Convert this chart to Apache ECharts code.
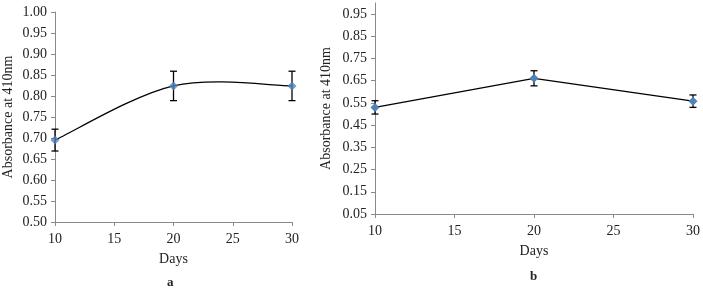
<!DOCTYPE html>
<html><head><meta charset="utf-8">
<script src="https://cdn.jsdelivr.net/npm/echarts@6/dist/echarts.min.js"></script>
<style>html,body{margin:0;padding:0;background:#fff}#c{width:703px;height:289px}</style>
</head><body><div id="c"></div>
<script>
const days = [10, 20, 30];
const xTicks = [10, 15, 20, 25, 30];
// Panel a
const meanA = [0.695, 0.824, 0.824];
const errA = [0.026, 0.035, 0.035];
const yTicksA = [0.50, 0.55, 0.60, 0.65, 0.70, 0.75, 0.80, 0.85, 0.90, 0.95, 1.00];
// Panel b
const meanB = [0.530, 0.661, 0.558];
const errB = [0.030, 0.034, 0.028];
const yTicksB = [0.05, 0.15, 0.25, 0.35, 0.45, 0.55, 0.65, 0.75, 0.85, 0.95];

const FONT = 'Liberation Serif';
const axisGray = '#8a8a8a';
const txt = '#222';

function xAxisCfg(gi){
  return {
    gridIndex: gi, type: 'value', min: xTicks[0], max: xTicks[xTicks.length-1], interval: 5,
    name: 'Days', nameLocation: 'middle', nameGap: 30,
    nameTextStyle: {fontFamily: FONT, fontSize: 14, color: txt},
    axisLine: {lineStyle: {color: axisGray}},
    axisTick: {show: true, inside: false, length: 4, lineStyle: {color: axisGray}},
    axisLabel: {fontFamily: FONT, fontSize: 14, color: txt, margin: 10},
    splitLine: {show: false}
  };
}
function yAxisCfg(gi, ticks, max, gap){
  return {
    gridIndex: gi, type: 'value', min: ticks[0], max: max, interval: 0.05 * (gi === 0 ? 1 : 2),
    name: 'Absorbance at 410nm', nameLocation: 'middle', nameGap: gap,
    nameTextStyle: {fontFamily: FONT, fontSize: 14, color: txt},
    axisLine: {show: true, lineStyle: {color: axisGray}},
    axisTick: {show: true, inside: false, length: 4, lineStyle: {color: axisGray}},
    axisLabel: {fontFamily: FONT, fontSize: 14, color: txt, margin: 8,
      showMaxLabel: gi === 0,
      formatter: v => v.toFixed(2)},
    splitLine: {show: false}
  };
}
function errSeries(gi, mean, err){
  return {
    type: 'custom', xAxisIndex: gi, yAxisIndex: gi, z: 1,
    data: days.map((d, i) => [d, mean[i] - err[i], mean[i] + err[i]]),
    renderItem: function(params, api){
      const x = api.value(0);
      const lo = api.coord([x, api.value(1)]);
      const hi = api.coord([x, api.value(2)]);
      const w = 3.5;
      const st = {stroke: '#000', lineWidth: 1.3};
      return {type: 'group', children: [
        {type: 'line', shape: {x1: lo[0], y1: lo[1], x2: hi[0], y2: hi[1]}, style: st},
        {type: 'line', shape: {x1: lo[0]-w, y1: lo[1], x2: lo[0]+w, y2: lo[1]}, style: st},
        {type: 'line', shape: {x1: hi[0]-w, y1: hi[1], x2: hi[0]+w, y2: hi[1]}, style: st}
      ]};
    }
  };
}
// Excel-style smoothed curve (Catmull-Rom Bezier) computed from axis coordinates
function smoothSeries(gi, mean){
  return {
    type: 'custom', xAxisIndex: gi, yAxisIndex: gi, z: 2, clip: false,
    data: days.map((d, i) => [d, mean[i]]),
    renderItem: function(params, api){
      const i = params.dataIndex;
      const n = days.length;
      if (i >= n - 1) return null;
      const P = j => api.coord([days[Math.max(0, Math.min(n-1, j))], mean[Math.max(0, Math.min(n-1, j))]]);
      const p0 = P(i-1), p1 = P(i), p2 = P(i+1), p3 = P(i+2);
      const c1 = [p1[0] + (p2[0]-p0[0])/6, p1[1] + (p2[1]-p0[1])/6];
      const c2 = [p2[0] - (p3[0]-p1[0])/6, p2[1] - (p3[1]-p1[1])/6];
      return {type: 'bezierCurve',
        shape: {x1: p1[0], y1: p1[1], x2: p2[0], y2: p2[1], cpx1: c1[0], cpy1: c1[1], cpx2: c2[0], cpy2: c2[1]},
        style: {stroke: '#000', lineWidth: 1.3, fill: null}};
    }
  };
}
function markerSeries(gi, mean){
  return {
    type: 'scatter', xAxisIndex: gi, yAxisIndex: gi, z: 3,
    data: days.map((d, i) => [d, mean[i]]),
    symbol: 'diamond', symbolSize: 9,
    itemStyle: {color: '#4f81bd'}, clip: false
  };
}
function lineSeries(gi, mean){
  return {
    type: 'line', xAxisIndex: gi, yAxisIndex: gi, z: 2,
    data: days.map((d, i) => [d, mean[i]]),
    symbol: 'diamond', symbolSize: 9,
    itemStyle: {color: '#4f81bd'},
    lineStyle: {color: '#000', width: 1.3},
    clip: false
  };
}

const chart = echarts.init(document.getElementById('c'), null, {renderer: 'canvas'});
chart.setOption({
  animation: false,
  backgroundColor: '#fff',
  title: [
    {text: 'a', left: 162, top: 271, textStyle: {fontFamily: FONT, fontSize: 13, fontWeight: 'bold', color: txt}},
    {text: 'b', left: 525, top: 265, textStyle: {fontFamily: FONT, fontSize: 13, fontWeight: 'bold', color: txt}}
  ],
  grid: [
    {left: 53, top: 12, width: 239, height: 210},
    {left: 375, top: 3, width: 318, height: 211}
  ],
  xAxis: [xAxisCfg(0), xAxisCfg(1)],
  yAxis: [yAxisCfg(0, yTicksA, 1.0, 40), yAxisCfg(1, yTicksB, 1.0, 42)],
  series: [
    errSeries(0, meanA, errA), smoothSeries(0, meanA), markerSeries(0, meanA),
    errSeries(1, meanB, errB), lineSeries(1, meanB)
  ]
});
</script></body></html>
